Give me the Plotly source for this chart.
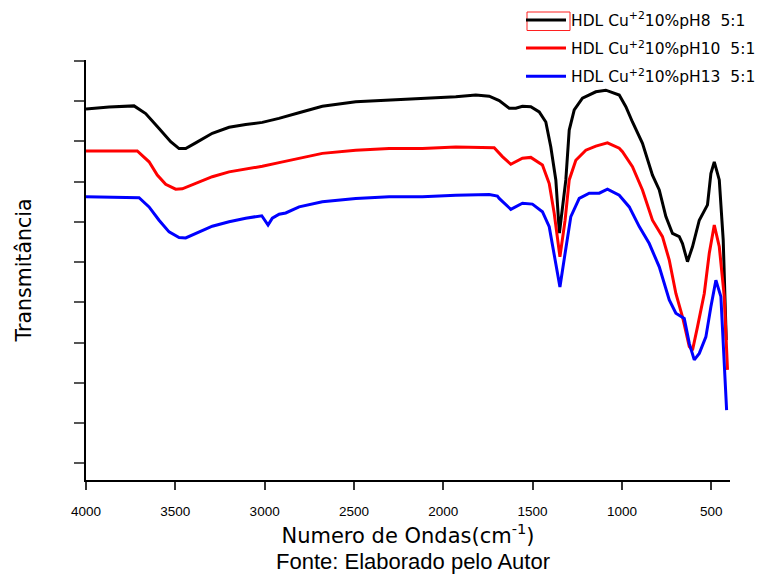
import plotly.graph_objects as go

# Wavenumber (cm-1) and transmittance (arbitrary units)
wn_ph8 = [4000, 3871, 3731, 3666, 3591, 3526, 3479, 3442, 3386, 3293, 3199, 3106, 3013, 2920,
          2808, 2677, 2490, 2303, 2117, 1930, 1818, 1743, 1687, 1631, 1594, 1557, 1510, 1463,
          1426, 1398, 1370, 1350, 1314, 1295, 1267, 1221, 1146, 1090, 1015, 978, 941, 885, 829,
          791, 754, 717, 679, 661, 633, 605, 567, 539, 521, 502, 483, 455, 433, 416]
t_ph8 = [88.0, 88.5, 88.8, 86.9, 83.2, 79.9, 78.2, 78.2, 79.6, 82.0, 83.5, 84.2, 84.7, 85.7,
         87.1, 88.7, 89.8, 90.2, 90.7, 91.1, 91.5, 91.2, 90.1, 88.2, 88.2, 88.7, 88.6, 87.3,
         84.8, 78.6, 70.4, 57.2, 70.4, 82.8, 87.8, 90.7, 92.3, 92.7, 91.5, 88.6, 84.8, 79.5, 71.6,
         67.9, 61.3, 57.1, 56.3, 54.6, 50.1, 53.8, 60.4, 62.9, 64.2, 72.0, 74.9, 70.4, 55.5, 30.6]

wn_ph10 = [4000, 3713, 3647, 3601, 3554, 3498, 3461, 3386, 3293, 3199, 3106, 3013, 2919, 2807,
           2677, 2490, 2303, 2117, 1930, 1715, 1669, 1622, 1557, 1510, 1445, 1407, 1379, 1347,
           1318, 1295, 1258, 1202, 1146, 1081, 1015, 997, 941, 885, 829, 773, 735, 698, 661,
           623, 605, 577, 539, 511, 483, 455, 427, 409]
t_ph10 = [77.6, 77.6, 74.9, 71.6, 69.3, 68.1, 68.2, 69.5, 71.2, 72.4, 73.1, 73.8, 74.7, 75.8,
          77.0, 77.8, 78.2, 78.2, 78.6, 78.4, 76.2, 74.3, 75.8, 76.0, 74.1, 69.5, 62.1, 51.3,
          60.4, 70.4, 75.3, 77.8, 78.8, 79.6, 78.3, 77.4, 73.7, 67.9, 60.4, 56.3, 50.5, 42.2, 36.4,
          29.0, 28.1, 33.9, 42.2, 52.2, 59.2, 53.8, 41.4, 23.2]

wn_ph13 = [4000, 3703, 3647, 3591, 3535, 3479, 3442, 3367, 3293, 3199, 3106, 3016, 2981, 2957,
           2919, 2882, 2807, 2677, 2490, 2303, 2117, 1930, 1743, 1697, 1687, 1622, 1557, 1501,
           1445, 1407, 1379, 1347, 1318, 1286, 1239, 1183, 1127, 1081, 1015, 959, 903, 847, 791,
           735, 698, 651, 623, 595, 567, 530, 502, 474, 446, 427, 414]
t_ph13 = [66.2, 66.0, 63.7, 60.4, 57.5, 56.1, 56.0, 57.5, 58.9, 60.0, 60.9, 61.5, 59.2, 60.9,
          61.9, 62.2, 63.7, 65.0, 65.8, 66.2, 66.2, 66.6, 66.8, 66.4, 65.8, 63.1, 64.6, 64.4,
          62.5, 58.8, 52.2, 43.8, 52.2, 61.3, 65.8, 67.1, 67.1, 68.1, 66.6, 63.7, 58.8, 54.6, 48.8,
          40.6, 37.3, 36.0, 29.8, 25.7, 27.3, 31.4, 38.9, 45.5, 41.4, 26.5, 13.2]

names = ["HDL Cu<sup>+2</sup>10%pH8\u00a0\u00a05:1",
         "HDL Cu<sup>+2</sup>10%pH10\u00a0\u00a05:1",
         "HDL Cu<sup>+2</sup>10%pH13\u00a0\u00a05:1"]
colors = ["#000000", "#ff0000", "#0000ff"]
x_ticks = [4000, 3500, 3000, 2500, 2000, 1500, 1000, 500]
y_ticks = [0, 10, 20, 30, 40, 50, 60, 70, 80, 90, 100]

fig = go.Figure()
for i, (wx, ty) in enumerate([(wn_ph8, t_ph8), (wn_ph10, t_ph10), (wn_ph13, t_ph13)]):
    fig.add_trace(go.Scatter(x=wx, y=ty, mode="lines", name=names[i],
                             line=dict(color=colors[i], width=3),
                             legendgroup=f"g{i}"))

sans = "Liberation Sans, Arial, sans-serif"
wide = "DejaVu Sans, Verdana, sans-serif"

fig.update_layout(
    width=771, height=577,
    margin=dict(l=86, r=41, t=60, b=97, autoexpand=False),
    paper_bgcolor="white", plot_bgcolor="white",
    font=dict(family=sans, color="#000000"),
    showlegend=True,
    legend=dict(x=(521 - 86) / 644, y=1.135, xanchor="left", yanchor="top",
                font=dict(size=15.5, family=wide),
                bgcolor="rgba(0,0,0,0)", tracegroupgap=5,
                itemwidth=40),
    xaxis=dict(range=[4000, 395], autorange=False,
               tickvals=x_ticks, ticktext=[str(v) for v in x_ticks],
               ticks="outside", ticklen=8, tickwidth=1.5, tickcolor="#333333",
               ticklabelstandoff=10,
               showline=True, linecolor="#000000", linewidth=2,
               showgrid=False, zeroline=False,
               tickfont=dict(size=13.5, family=sans),
               title=dict(text="Numero de Ondas(cm<sup>-1</sup>)",
                          font=dict(size=21, family=wide), standoff=10)),
    yaxis=dict(range=[-4.15, 100.2], autorange=False,
               tickvals=y_ticks, showticklabels=False,
               ticks="outside", ticklen=10, tickwidth=1.5, tickcolor="#555555",
               showline=True, linecolor="#000000", linewidth=2,
               showgrid=False, zeroline=False,
               title=dict(text="Transmitância",
                          font=dict(size=20.5, family=wide), standoff=37)),
    shapes=[dict(type="rect", xref="paper", yref="paper",
                 x0=(527 - 86) / 644, x1=(570 - 86) / 644,
                 y0=(480 - 30.5) / 420, y1=(480 - 12) / 420,
                 line=dict(color="#ff2020", width=1), fillcolor="rgba(0,0,0,0)")],
    annotations=[dict(text="Fonte: Elaborado pelo Autor", xref="paper", yref="paper",
                      x=(413 - 86) / 644, y=-0.16, xanchor="center", yanchor="top",
                      showarrow=False, font=dict(size=22, family=sans))],
)

fig.write_html("out.html")
